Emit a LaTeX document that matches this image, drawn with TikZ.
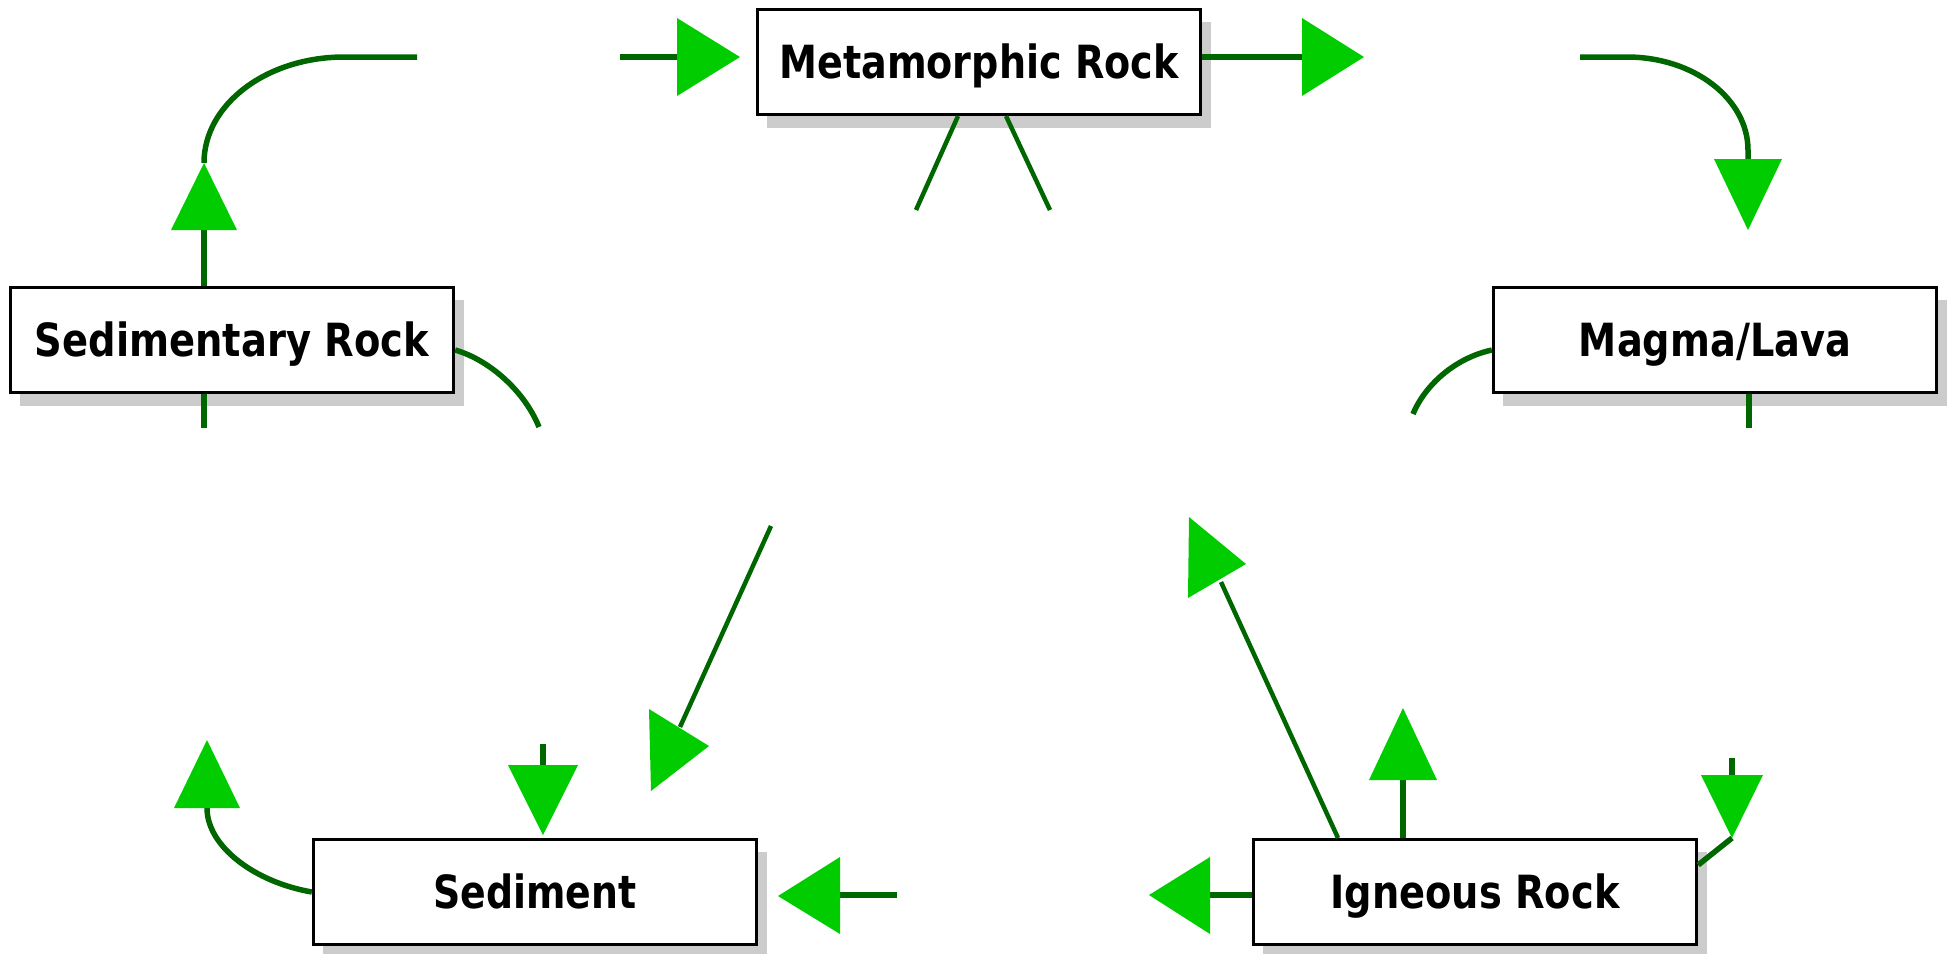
\documentclass[tikz,border=0pt]{standalone}
\usepackage{fontspec}
\setmainfont{DejaVu Sans}
\usepackage{graphicx}
\definecolor{linegreen}{RGB}{0,102,0}
\definecolor{headgreen}{RGB}{0,204,0}
\definecolor{shadowgray}{RGB}{204,204,204}
\newcommand\fitw[2]{\resizebox{#1}{\height}{#2}}
\tikzset{
  box/.style={draw=black, line width=0.03cm, fill=white,
    minimum width=4.43cm, minimum height=1.05cm, inner sep=0pt,
    text height=9.5pt, text depth=0pt,
    font=\fontsize{13pt}{15pt}\selectfont\bfseries,
    preaction={fill=shadowgray, transform canvas={shift={(0.10cm,-0.13cm)}}}},
  conn/.style={draw=linegreen, line width=0.055cm},
  thinconn/.style={draw=linegreen, line width=0.045cm},
  head/.style={fill=headgreen},
}
\begin{document}
\begin{tikzpicture}[x=0.01cm,y=-0.01cm]
\useasboundingbox (0,0) rectangle (1950,953);
% boxes
\node[box] (M)  at (979,62)   {\fitw{3.99cm}{Metamorphic Rock}};
\node[box] (SR) at (232,340)  {\fitw{3.94cm}{Sedimentary Rock}};
\node[box] (ML) at (1715,340) {\fitw{2.72cm}{Magma/Lava}};
\node[box] (S)  at (535,892)  {\fitw{2.03cm}{Sediment}};
\node[box] (IR) at (1475,892) {\fitw{2.89cm}{Igneous Rock}};
% helper coordinates
\coordinate (y57)  at (0,57);
\coordinate (y350) at (0,350);
\coordinate (y895) at (0,895);
\coordinate (y865) at (0,865);
\coordinate (x204) at (204,0);
\coordinate (x958) at (958,0);
\coordinate (x1006) at (1006,0);
\coordinate (x1749) at (1749,0);
\coordinate (x1338) at (1338,0);
\coordinate (x1403) at (1403,0);
% free ends
\coordinate (srUp)   at (204,230);
\coordinate (srTop)  at (417,57);
\coordinate (mInS)   at (620,57);
\coordinate (mInE)   at (677,57);
\coordinate (mOutE)  at (1302,57);
\coordinate (trS)    at (1580,57);
\coordinate (trE)    at (1748,159);
\coordinate (mlArc)  at (1413,414);
\coordinate (mlDown) at (1749,428);
\coordinate (srArc)  at (539,427);
\coordinate (srDown) at (204,428);
\coordinate (mL)     at (916,210);
\coordinate (mR)     at (1050,210);
\coordinate (dgS)    at (771,526);
\coordinate (dgE)    at (680,727);
\coordinate (sdS)    at (543,744);
\coordinate (sdE)    at (543,765);
\coordinate (slE)    at (207,808);
\coordinate (siS)    at (897,895);
\coordinate (siE)    at (840,895);
\coordinate (ilE)    at (1210,895);
\coordinate (idE)    at (1221,582);
\coordinate (iuE)    at (1403,780);
\coordinate (irS)    at (1732,758);
\coordinate (irE)    at (1732,775);
\coordinate (irT)    at (1732,838);
% Sedimentary Rock connectors
\draw[conn] (SR.north -| x204) -- (srUp);
\fill[head] (171,230) -- (237,230) -- (204,163) -- cycle;
\draw[conn] (204,163) .. controls (204,104) and (267,57) .. (344,57) -- (srTop);
\draw[conn] (SR.east |- y350) .. controls (490,360) and (525,392) .. (srArc);
\draw[conn] (SR.south -| x204) -- (srDown);
% Metamorphic Rock connectors
\draw[conn] (mInS) -- (mInE);
\fill[head] (677,18) -- (677,96) -- (740,57) -- cycle;
\draw[conn] (M.east |- y57) -- (mOutE);
\fill[head] (1302,18) -- (1302,96) -- (1364,57) -- cycle;
\draw[thinconn] (M.south -| x958) -- (mL);
\draw[thinconn] (M.south -| x1006) -- (mR);
% top right curve
\draw[conn] (trS) -- (1627,57) .. controls (1694,57) and (1748,99) .. (1748,150) -- (trE);
\fill[head] (1714,159) -- (1782,159) -- (1748,230) -- cycle;
% Magma/Lava connectors
\draw[conn] (ML.west |- y350) .. controls (1455,358) and (1425,385) .. (mlArc);
\draw[conn] (ML.south -| x1749) -- (mlDown);
% Sediment connectors
\draw[thinconn] (dgS) -- (dgE);
\fill[head] (649,709) -- (709,746) -- (651,791) -- cycle;
\draw[conn] (sdS) -- (sdE);
\fill[head] (508,765) -- (578,765) -- (543,835) -- cycle;
\draw[conn] (S.west) .. controls (254,882) and (207,846) .. (slE);
\fill[head] (174,808) -- (240,808) -- (207,740) -- cycle;
\draw[conn] (siS) -- (siE);
\fill[head] (840,857) -- (840,934) -- (778,896) -- cycle;
% Igneous Rock connectors
\draw[conn] (IR.west |- y895) -- (ilE);
\fill[head] (1210,857) -- (1210,934) -- (1149,895) -- cycle;
\draw[thinconn] (IR.north -| x1338) -- (idE);
\fill[head] (1189,517) -- (1246,564) -- (1188,598) -- cycle;
\draw[conn] (IR.north -| x1403) -- (iuE);
\fill[head] (1369,780) -- (1437,780) -- (1403,708) -- cycle;
\draw[conn] (irS) -- (irE);
\fill[head] (1701,775) -- (1763,775) -- (1732,838) -- cycle;
\draw[conn] (irT) -- (IR.east |- y865);
\end{tikzpicture}
\end{document}
